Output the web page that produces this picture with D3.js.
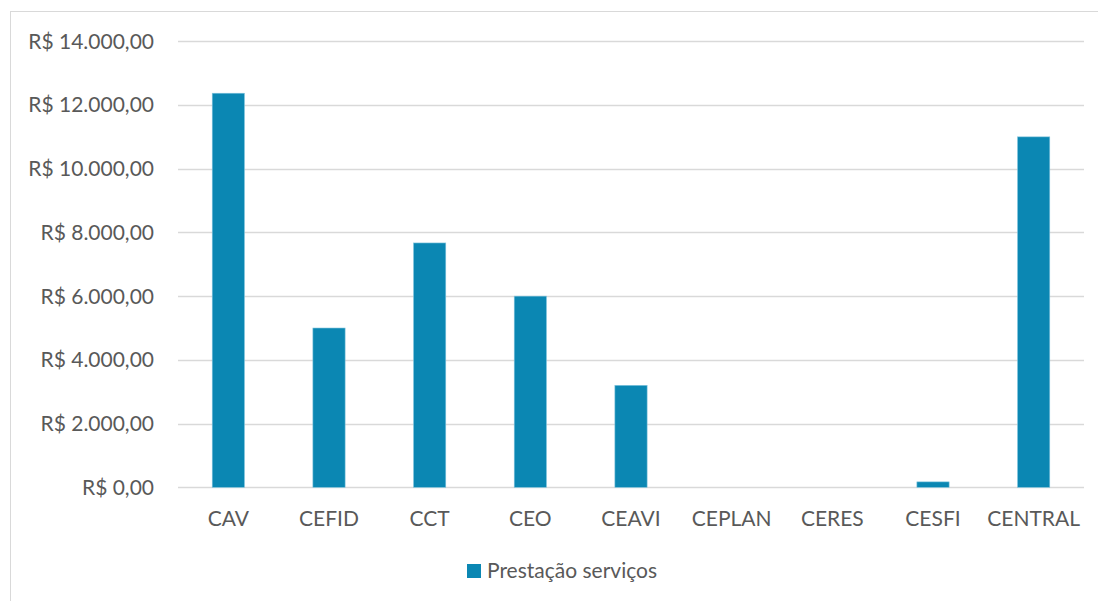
<!DOCTYPE html>
<html>
<head>
<meta charset="utf-8">
<script src="https://cdn.jsdelivr.net/npm/d3@7"></script>
<style>
  body { margin: 0; background: #fff; }
  text { font-family: Lato, "Open Sans", sans-serif; fill: #595959; }
</style>
</head>
<body>
<div class="chart"></div>
<script>
// dados do gráfico
const categories = ["CAV", "CEFID", "CCT", "CEO", "CEAVI", "CEPLAN", "CERES", "CESFI", "CENTRAL"];
const prestacao = [12370, 5000, 7670, 6000, 3200, 0, 0, 170, 11000];
const yTicks = [0, 2000, 4000, 6000, 8000, 10000, 12000, 14000];
const seriesName = "Prestação serviços";

const W = 1098, H = 601;
const m = { left: 178, right: 14, top: 41, bottom: 113 };
const barColor = "#0b87b3";
const fontSize = 21;

const svg = d3.select(".chart").append("svg")
  .attr("width", W).attr("height", H);

// borda do gráfico
svg.append("rect")
  .attr("x", 10.5).attr("y", 11.5)
  .attr("width", W + 10).attr("height", H + 10)
  .attr("fill", "none").attr("stroke", "#d9d9d9");

const x = d3.scaleBand()
  .domain(categories)
  .range([m.left, W - m.right])
  .paddingInner(0.68).paddingOuter(0.34);

const y = d3.scaleLinear()
  .domain([0, 14000])
  .range([H - m.bottom - 0.7, m.top + 0.3]);

const fmt = v => "R$ " + d3.format(",.2f")(v).replace(/,/g, "#").replace(".", ",").replace(/#/g, ".");

// linhas de grade
svg.append("g").selectAll("line")
  .data(yTicks)
  .enter().append("line")
  .attr("x1", m.left).attr("x2", W - m.right)
  .attr("y1", d => Math.round(y(d)) + 0.5)
  .attr("y2", d => Math.round(y(d)) + 0.5)
  .attr("stroke", "#d9d9d9").attr("stroke-width", 1.3);

// rótulos eixo y
svg.append("g").selectAll("text")
  .data(yTicks)
  .enter().append("text")
  .attr("x", 154)
  .attr("y", d => y(d))
  .attr("dy", "0.35em")
  .attr("text-anchor", "end")
  .attr("font-size", fontSize)
  .text(fmt);

// barras
svg.append("g").selectAll("rect")
  .data(prestacao)
  .enter().append("rect")
  .attr("x", (d, i) => x(categories[i]))
  .attr("width", x.bandwidth())
  .attr("y", d => y(d))
  .attr("height", d => y(0) - y(d))
  .attr("fill", barColor)
  .attr("stroke", d => d > 0 ? "#7fc3dc" : "none")
  .attr("stroke-width", 0.6);

// rótulos categorias
svg.append("g").selectAll("text")
  .data(categories)
  .enter().append("text")
  .attr("x", d => x(d) + x.bandwidth() / 2)
  .attr("y", 519)
  .attr("dy", "0.35em")
  .attr("text-anchor", "middle")
  .attr("font-size", fontSize)
  .text(d => d);

// legenda
const leg = svg.append("g");
leg.append("rect")
  .attr("x", 467).attr("y", 564)
  .attr("width", 14).attr("height", 14)
  .attr("fill", barColor);
leg.append("text")
  .attr("x", 487).attr("y", 571)
  .attr("dy", "0.35em")
  .attr("font-size", fontSize)
  .text(seriesName);
</script>
</body>
</html>
